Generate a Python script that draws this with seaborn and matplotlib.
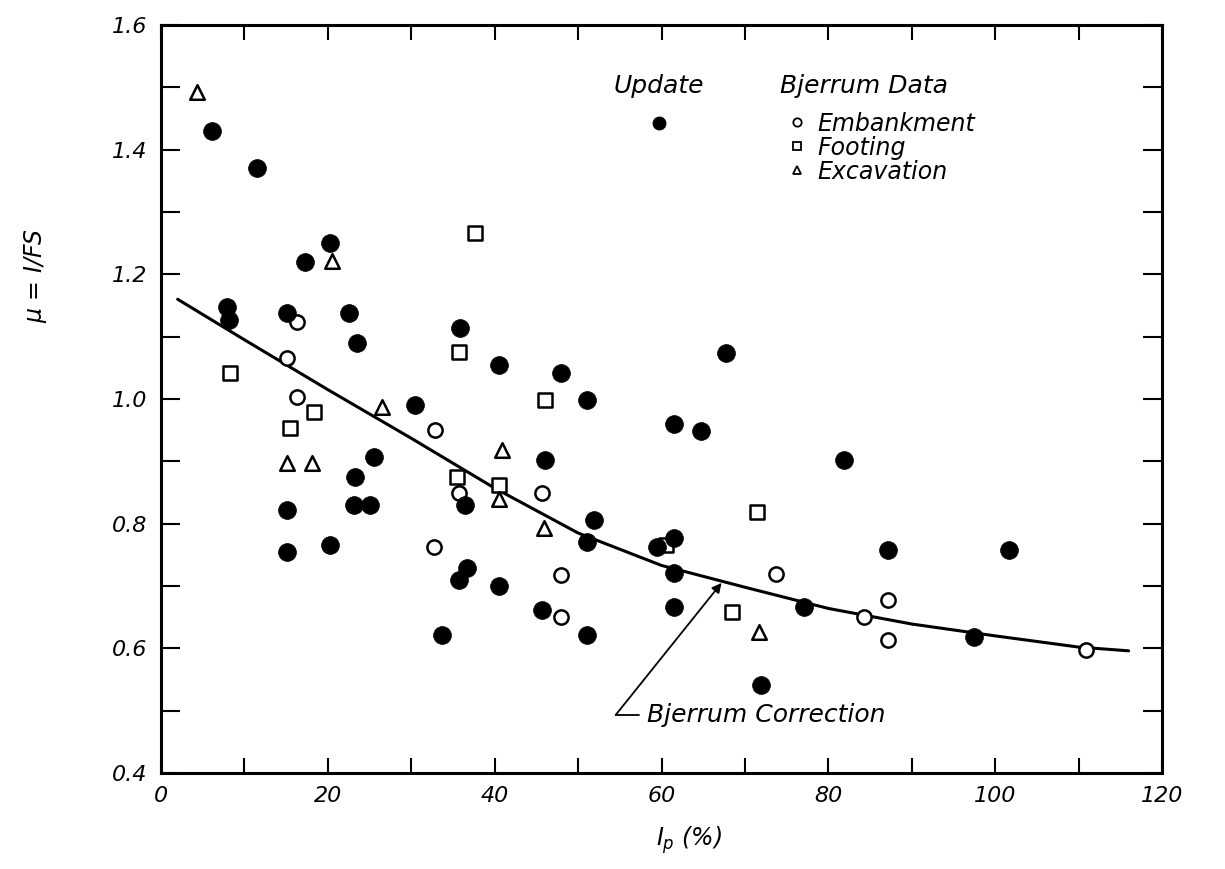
import matplotlib
matplotlib.use("Agg")
import matplotlib.pyplot as plt
from matplotlib.lines import Line2D
import seaborn as sns
import pandas as pd

# ---- data ----
update_ip = [6.1, 11.5, 20.3, 17.3, 7.9, 8.2, 15.1, 22.5, 35.9, 23.5, 40.5, 30.5,
             25.5, 23.3, 15.1, 23.1, 25.1, 20.3, 15.1, 36.5, 36.7, 35.7, 40.5, 33.7,
             47.9, 51.1, 67.7, 61.5, 64.7, 46.0, 51.9, 51.1, 59.5, 61.5, 61.5, 45.7,
             51.1, 61.5, 71.9, 81.9, 87.2, 101.7, 77.1, 97.5]
update_mu = [1.43, 1.37, 1.25, 1.22, 1.148, 1.127, 1.138, 1.138, 1.114, 1.09, 1.055, 0.99,
             0.907, 0.875, 0.822, 0.83, 0.83, 0.766, 0.755, 0.83, 0.729, 0.71, 0.70, 0.621,
             1.042, 0.999, 1.074, 0.96, 0.949, 0.902, 0.806, 0.771, 0.763, 0.777, 0.721, 0.662,
             0.622, 0.666, 0.541, 0.902, 0.758, 0.758, 0.666, 0.618]

emb_ip = [16.3, 15.1, 16.3, 32.8, 32.7, 35.7, 45.7, 47.9, 47.9, 73.7, 84.3, 87.2, 87.2, 110.9]
emb_mu = [1.124, 1.066, 1.003, 0.95, 0.763, 0.849, 0.849, 0.718, 0.65, 0.719, 0.65, 0.678, 0.613, 0.597]

foot_ip = [37.7, 35.7, 8.3, 18.3, 15.5, 35.5, 40.5, 46.0, 60.5, 71.5, 68.5]
foot_mu = [1.267, 1.076, 1.042, 0.979, 0.954, 0.875, 0.862, 0.999, 0.765, 0.819, 0.658]

exc_ip = [4.3, 20.5, 26.5, 15.1, 18.1, 40.9, 40.5, 45.9, 71.7]
exc_mu = [1.493, 1.222, 0.987, 0.898, 0.898, 0.918, 0.84, 0.793, 0.626]

curve_ip = [2, 10, 20, 30, 40, 50, 60, 70, 80, 90, 100, 110, 116]
curve_mu = [1.16, 1.095, 1.015, 0.937, 0.857, 0.785, 0.733, 0.698, 0.664, 0.639, 0.62, 0.602, 0.596]

x_ticks = [0, 20, 40, 60, 80, 100, 120]
y_ticks = [0.4, 0.6, 0.8, 1.0, 1.2, 1.4, 1.6]
y_tick_labels = ["0.4", "0.6", "0.8", "1.0", "1.2", "1.4", "1.6"]

sns.set_style("ticks")
plt.rcParams["font.family"] = ["DejaVu Sans"]
plt.rcParams["font.style"] = "italic"
plt.rcParams["mathtext.fontset"] = "dejavusans"
for key in ["text.color", "axes.labelcolor", "xtick.color", "ytick.color", "axes.edgecolor"]:
    plt.rcParams[key] = "black"

fig = plt.figure(figsize=(12.25, 8.69), dpi=100)
ax = fig.add_axes([161 / 1225, 1 - 773 / 869, (1162 - 161) / 1225, (773 - 25) / 869])

df_up = pd.DataFrame({"ip": update_ip, "mu": update_mu})
df_emb = pd.DataFrame({"ip": emb_ip, "mu": emb_mu})
df_foot = pd.DataFrame({"ip": foot_ip, "mu": foot_mu})
df_exc = pd.DataFrame({"ip": exc_ip, "mu": exc_mu})
df_curve = pd.DataFrame({"ip": curve_ip, "mu": curve_mu})

sns.lineplot(data=df_curve, x="ip", y="mu", ax=ax, color="black", linewidth=2.2,
             estimator=None, sort=True, zorder=2)
sns.scatterplot(data=df_emb, x="ip", y="mu", ax=ax, marker="o", s=105,
                facecolor="white", edgecolor="black", linewidth=1.8, zorder=3)
sns.scatterplot(data=df_foot, x="ip", y="mu", ax=ax, marker="s", s=100,
                facecolor="white", edgecolor="black", linewidth=1.8, zorder=3)
sns.scatterplot(data=df_exc, x="ip", y="mu", ax=ax, marker="^", s=110,
                facecolor="white", edgecolor="black", linewidth=1.8, zorder=3)
sns.scatterplot(data=df_up, x="ip", y="mu", ax=ax, marker="o", s=165,
                color="black", edgecolor="black", linewidth=0.5, zorder=4)

ax.set_xlim(0, 120)
ax.set_ylim(0.4, 1.6)
ax.set_xticks(x_ticks)
ax.set_xticks(range(10, 120, 20), minor=True)
ax.set_yticks(y_ticks)
ax.set_yticklabels(y_tick_labels)
ax.set_yticks([0.5, 0.7, 0.9, 1.1, 1.3, 1.5], minor=True)
for lab in ax.get_xticklabels() + ax.get_yticklabels():
    lab.set_fontstyle("italic")
    lab.set_fontsize(16)
ax.tick_params(axis="x", which="both", direction="in", length=11, width=1.5,
               top=True, bottom=True, pad=9)
ax.tick_params(axis="y", which="both", direction="in", length=14, width=1.5,
               left=True, right=True, pad=10)
for sp in ax.spines.values():
    sp.set_linewidth(2.2)
    sp.set_visible(True)

ax.set_xlabel("")
ax.set_ylabel("")
ax.text(0.528, -0.09, r"$I_p$ (%)", transform=ax.transAxes, ha="center", va="center",
        fontsize=17, fontstyle="italic")
ax.text(-0.125, 0.665, r"$\mu$ = I/FS", transform=ax.transAxes, ha="center", va="center",
        rotation=90, fontsize=17, fontstyle="italic")

ax.annotate("", xy=(67.2, 0.705), xytext=(54.5, 0.493),
            arrowprops=dict(arrowstyle="-|>", color="black", lw=1.3,
                            mutation_scale=14, shrinkA=0, shrinkB=0))
ax.plot([54.5, 57.3], [0.493, 0.493], color="black", lw=1.3)
ax.text(58.3, 0.493, "Bjerrum Correction", fontsize=18, fontstyle="italic",
        ha="left", va="center")

# legends
h_up = Line2D([], [], marker="o", linestyle="none", markersize=9,
              markerfacecolor="black", markeredgecolor="black")
leg1 = ax.legend(handles=[h_up], labels=[""], title="Update", frameon=False,
                 loc="upper left", bbox_to_anchor=(0.452, 0.935),
                 handlelength=1.0, handletextpad=0.0, borderpad=0.0, borderaxespad=0.0,
                 title_fontproperties={"style": "italic", "size": 18})
leg1._legend_box.sep = 14
ax.add_artist(leg1)

h_emb = Line2D([], [], marker="o", linestyle="none", markersize=6,
               markerfacecolor="white", markeredgecolor="black", markeredgewidth=1.3)
h_foot = Line2D([], [], marker="s", linestyle="none", markersize=6,
                markerfacecolor="white", markeredgecolor="black", markeredgewidth=1.3)
h_exc = Line2D([], [], marker="^", linestyle="none", markersize=6,
               markerfacecolor="white", markeredgecolor="black", markeredgewidth=1.3)
leg2 = ax.legend(handles=[h_emb, h_foot, h_exc],
                 labels=["Embankment", "Footing", "Excavation"],
                 title="Bjerrum Data", frameon=False, loc="upper left",
                 bbox_to_anchor=(0.618, 0.935), handlelength=1.5, handletextpad=0.1,
                 labelspacing=0.0, borderpad=0.0, borderaxespad=0.0, fontsize=17,
                 title_fontproperties={"style": "italic", "size": 18})
leg2._legend_box.align = "left"
leg2._legend_box.sep = 10
for t in leg2.get_texts():
    t.set_fontstyle("italic")

fig.savefig("out.png", dpi=100, facecolor="white")
